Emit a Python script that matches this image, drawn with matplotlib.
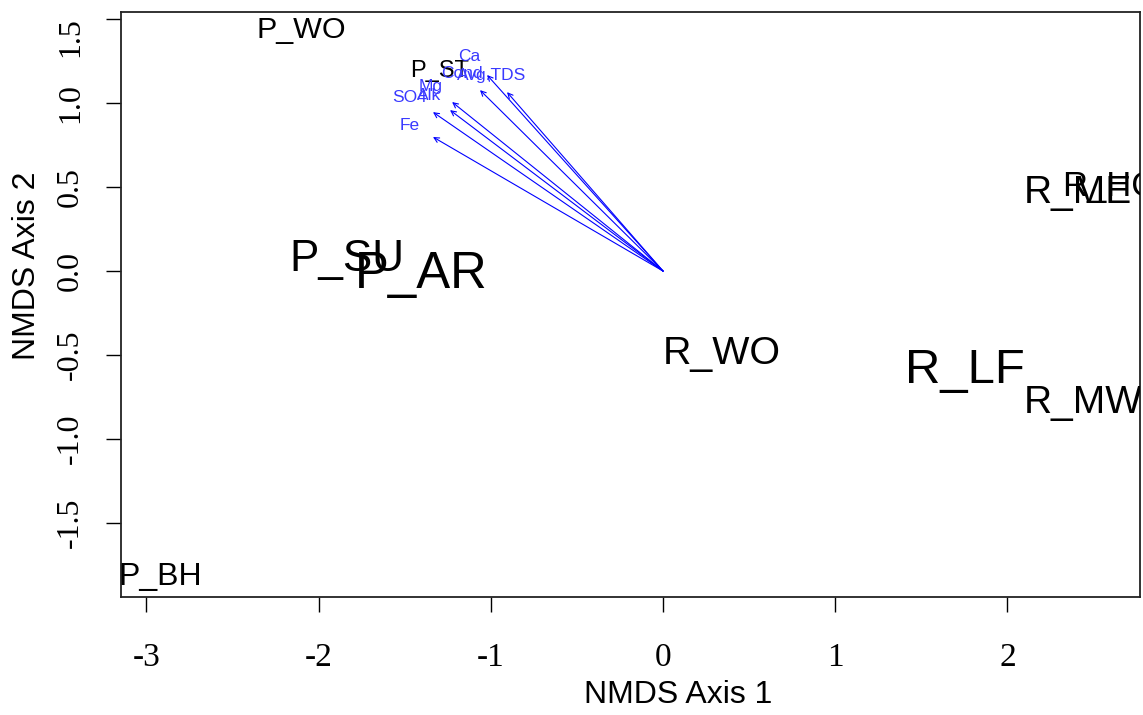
import matplotlib.pyplot as plt
from matplotlib.transforms import blended_transform_factory

# NMDS site scores
sites = ["P_WO", "P_ST", "P_SU", "P_AR", "R_WO", "R_LF", "R_MW", "R_ME", "R_HC", "P_BH"]
site_x = [-2.10, -1.30, -1.835, -1.405, 0.343, 1.754, 2.44, 2.41, 2.59, -2.92]
site_y = [1.45, 1.208, 0.095, 0.01, -0.47, -0.56, -0.762, 0.488, 0.527, -1.80]
# label size (cex) per site
site_cex = [1.83, 1.42, 2.64, 3.05, 2.36, 2.94, 2.33, 2.33, 2.08, 1.92]

# envfit vectors
env_vars = ["Fe", "SO4", "Alk", "Mg", "Cond", "Ca", "Avg.TDS"]
env_x = [-1.336, -1.336, -1.237, -1.225, -1.063, -1.022, -0.906]
env_y = [0.798, 0.946, 0.958, 1.006, 1.077, 1.167, 1.065]

x_ticks = [-3, -2, -1, 0, 1, 2]
y_ticks = [-1.5, -1.0, -0.5, 0.0, 0.5, 1.0, 1.5]

W, H = 1143, 715
fig = plt.figure(figsize=(W / 100, H / 100), dpi=100)
ax = fig.add_axes([121 / W, 118 / H, 1019 / W, 585 / H])
ax.set_xlim(-3.148, 2.770)
ax.set_ylim(-1.940, 1.542)

sans = "Liberation Sans"
serif = "Liberation Serif"

for name, x, y, c in zip(sites, site_x, site_y, site_cex):
    ax.text(x, y, name, fontsize=12 * c, family=sans, color="black",
            ha="center", va="center_baseline", clip_on=True)

for name, x, y in zip(env_vars, env_x, env_y):
    ax.annotate("", xy=(x, y), xytext=(0, 0),
                arrowprops=dict(arrowstyle="->", color="blue", lw=0.8,
                                mutation_scale=9, shrinkA=0, shrinkB=0))
    ax.text(1.1 * x, 1.1 * y, name, fontsize=12.5, family=sans,
            color="#3a3aff", ha="center", va="center_baseline")

ax.set_xticks(x_ticks)
ax.set_xticklabels([str(t) for t in x_ticks], family=serif, fontsize=24)
ax.set_yticks(y_ticks)
# top label sits a bit lower, drawn separately below
ylabels = ["%.1f" % t for t in y_ticks]
ax.set_yticklabels(ylabels[:-1] + [""], family=serif, fontsize=23,
                   rotation=90, ha="right", va="center")
ax.tick_params(axis="x", length=11, width=1, pad=22)
ax.tick_params(axis="y", length=11, width=1, pad=15)
trans = blended_transform_factory(ax.transAxes, ax.transData)
ax.text(-36 / 1019, y_ticks[-1] - 0.11, ylabels[-1], transform=trans,
        family=serif, fontsize=23, rotation=90, ha="right", va="center",
        clip_on=False)

for s in ax.spines.values():
    s.set_linewidth(1.3)
    s.set_color("#222222")

ax.set_xlabel("NMDS Axis 1", family=sans, fontsize=23)
ax.xaxis.set_label_coords(0.547, -0.167)
ax.xaxis.label.set_va("center")
ax.set_ylabel("NMDS Axis 2", family=sans, fontsize=23)
ax.yaxis.set_label_coords(-0.092, 0.567)
ax.yaxis.label.set_va("center")

fig.savefig("out.png", dpi=100)
